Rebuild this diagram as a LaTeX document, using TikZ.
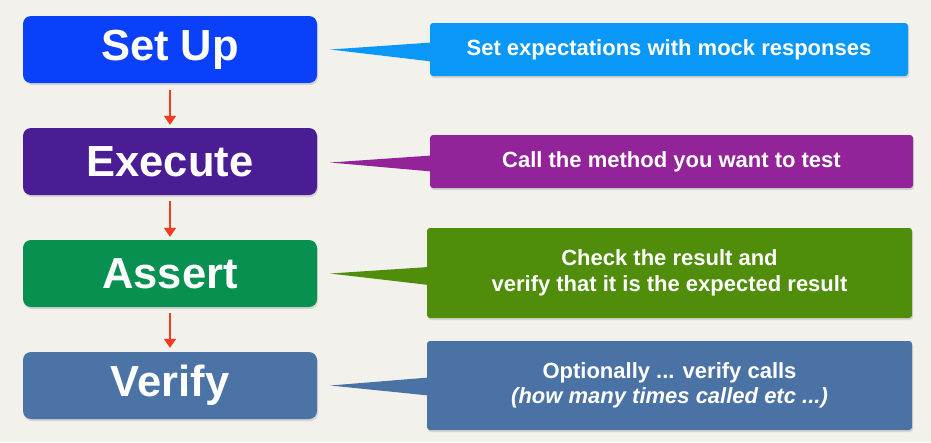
\documentclass[tikz,border=0pt]{standalone}
\usepackage{fontspec}
\setmainfont{Liberation Sans}
\usetikzlibrary{shadows,calc,arrows.meta}
\definecolor{bg}{HTML}{F3F1EC}
\definecolor{cSetup}{HTML}{0B40FB}
\definecolor{cExec}{HTML}{4B1D95}
\definecolor{cAssert}{HTML}{07904F}
\definecolor{cVerify}{HTML}{4C73A5}
\definecolor{nSetup}{HTML}{0A98F8}
\definecolor{nExec}{HTML}{922399}
\definecolor{nAssert}{HTML}{4F8D0B}
\definecolor{nVerify}{HTML}{4A72A5}
\definecolor{flow}{HTML}{F03C1E}
\begin{document}
\begin{tikzpicture}[x=1pt,y=-1pt,
  stage/.style={rounded corners=8pt, minimum width=294pt, minimum height=67pt, inner sep=0pt,
    text=white, font=\fontsize{43.5}{43.5}\selectfont\bfseries,
    drop shadow={shadow xshift=1pt, shadow yshift=-2pt, opacity=0.25}},
  note/.style={rounded corners=3pt, inner sep=0pt, text=white, align=center,
    font=\fontsize{22}{25.5}\selectfont\bfseries,
    drop shadow={shadow xshift=1pt, shadow yshift=-2pt, opacity=0.25}},
  flowarrow/.style={draw=flow, line width=1.5pt, -{Triangle[length=9pt,width=12pt]}}]
\fill[bg] (0,0) rectangle (931,442);
\useasboundingbox (0,0) rectangle (931,442);

\node[stage, fill=cSetup]  (s1) at (170,49.5) {Set Up};
\node[stage, fill=cExec]   (s2) at (170,161.5) {Execute};
\node[stage, fill=cAssert] (s3) at (170,273.5) {Assert};
\node[stage, fill=cVerify] (s4) at (170,385.5) {Verify};

\node[note, fill=nSetup, minimum width=478pt, minimum height=53pt]  (n1) at (669,49.5) {Set expectations with mock responses};
\node[note, fill=nExec, minimum width=483pt, minimum height=53pt]   (n2) at (671.5,161.5) {Call the method you want to test};
\node[note, fill=nAssert, minimum width=485pt, minimum height=90pt] (n3) at (669.5,273) {Check the result and\\verify that it is the expected result};
\node[note, fill=nVerify, minimum width=485pt, minimum height=89pt] (n4) at (669.5,385.5) {Optionally ... verify calls\\\itshape (how many times called etc ...)};

\fill[nSetup]  ($(s1.east)+(13,0)$) -- ($(n1.west)+(2,-7)$) -- ($(n1.west)+(2,12)$) -- cycle;
\fill[nExec]   ($(s2.east)+(13,1)$) -- ($(n2.west)+(2,-6)$) -- ($(n2.west)+(2,10)$) -- cycle;
\fill[nAssert] ($(s3.east)+(13,0)$) -- ($(n3.west)+(2,-6)$) -- ($(n3.west)+(2,12)$) -- cycle;
\fill[nVerify] ($(s4.east)+(13,0)$) -- ($(n4.west)+(2,-8)$) -- ($(n4.west)+(2,10)$) -- cycle;

\draw[flowarrow] ($(s1.south)+(0,7)$) -- ($(s2.north)+(0,-3)$);
\draw[flowarrow] ($(s2.south)+(0,6)$) -- ($(s3.north)+(0,-3)$);
\draw[flowarrow] ($(s3.south)+(0,6)$) -- ($(s4.north)+(0,-4)$);
\end{tikzpicture}
\end{document}
